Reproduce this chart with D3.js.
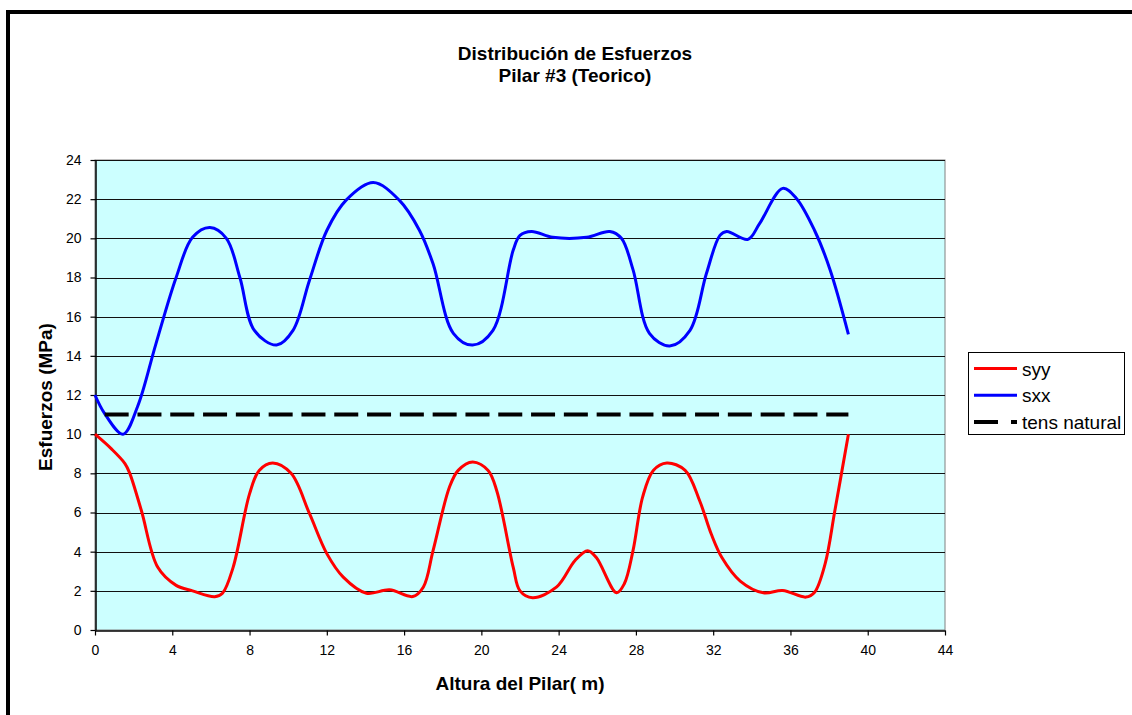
<!DOCTYPE html>
<html>
<head>
<meta charset="utf-8">
<script src="https://cdn.jsdelivr.net/npm/d3@7"></script>
<style>
  html, body { margin: 0; padding: 0; background: #fff; }
  svg { display: block; font-family: "Liberation Sans", Arial, sans-serif; }
</style>
</head>
<body>
<svg id="chart" width="1132" height="715"></svg>
<script>
// Esfuerzo vertical (syy) a lo largo de la altura del pilar
const syyAltura = [0, 0.85, 1.55, 1.8, 2.4, 3.25, 4.2, 5.05, 6.2, 6.6, 7.15, 8.0, 8.5, 9.2, 10.15, 11.1, 12.0, 12.85, 14.05, 15.25, 16.45, 17.0, 17.5, 18.35, 18.8, 19.55, 20.35, 20.8, 21.65, 22.0, 22.65, 23.9, 24.85, 25.5, 25.95, 27.0, 27.4, 27.85, 28.35, 28.9, 29.6, 30.55, 31.3, 31.9, 32.45, 33.4, 34.6, 35.6, 36.8, 37.25, 37.8, 38.3, 39.0];
const syyValores = [10.0, 9.25, 8.5, 8.0, 6.1, 3.2, 2.28, 2.0, 1.7, 1.88, 3.2, 6.95, 8.15, 8.53, 8.0, 5.95, 3.9, 2.7, 1.88, 2.05, 1.71, 2.2, 4.05, 7.3, 8.15, 8.58, 8.15, 7.1, 3.2, 2.0, 1.65, 2.2, 3.55, 4.05, 3.7, 1.9, 2.36, 4.05, 6.8, 8.15, 8.53, 8.15, 6.6, 4.9, 3.7, 2.5, 1.9, 2.02, 1.68, 1.93, 3.4, 6.1, 10.0];

// Esfuerzo horizontal (sxx)
const sxxAltura = [0, 0.5, 1.45, 2.2, 3.15, 4.2, 5.05, 5.95, 6.8, 7.5, 8.25, 9.4, 10.25, 11.1, 12.0, 13.0, 14.4, 15.75, 16.8, 17.5, 18.55, 19.55, 20.6, 21.65, 22.0, 22.6, 23.7, 25.45, 26.65, 27.25, 27.85, 28.7, 29.75, 30.8, 31.65, 32.35, 32.7, 33.8, 34.4, 35.6, 36.3, 37.25, 38.05, 39.0];
const sxxValores = [12.0, 11.05, 10.0, 11.4, 14.6, 18.0, 20.05, 20.55, 20.0, 18.0, 15.3, 14.55, 15.3, 17.85, 20.4, 21.95, 22.85, 21.95, 20.4, 18.7, 15.15, 14.55, 15.3, 19.4, 20.15, 20.35, 20.05, 20.05, 20.35, 20.0, 18.4, 15.15, 14.5, 15.3, 18.2, 20.15, 20.35, 19.95, 20.75, 22.55, 22.05, 20.4, 18.4, 15.1];

// Tensión natural (constante)
const tensAltura = [0.5, 39.0];
const tensValores = [11, 11];

const serieNombres = ["syy", "sxx", "tens natural"];
const xTicks = [0, 4, 8, 12, 16, 20, 24, 28, 32, 36, 40, 44];
const yTicks = [0, 2, 4, 6, 8, 10, 12, 14, 16, 18, 20, 22, 24];

const svg = d3.select("#chart");
const plot = { left: 95, right: 945, top: 160, bottom: 630 };

const x = d3.scaleLinear().domain([0, 44]).range([plot.left, plot.right]);
const y = d3.scaleLinear().domain([0, 24]).range([plot.bottom, plot.top]);

// Marco exterior del gráfico
svg.append("rect").attr("x", 6).attr("y", 10).attr("width", 4).attr("height", 705).attr("fill", "#000");
svg.append("rect").attr("x", 6).attr("y", 10).attr("width", 1126).attr("height", 4).attr("fill", "#000");

// Títulos
const title = svg.append("text")
  .attr("text-anchor", "middle")
  .attr("font-weight", "bold")
  .attr("font-size", 19)
  .attr("fill", "#000");
title.append("tspan").attr("x", 575).attr("y", 60).text("Distribución de Esfuerzos");
title.append("tspan").attr("x", 575).attr("y", 82).text("Pilar #3 (Teorico)");

// Área de trazado
svg.append("rect")
  .attr("x", plot.left).attr("y", plot.top)
  .attr("width", plot.right - plot.left).attr("height", plot.bottom - plot.top)
  .attr("fill", "#CCFFFF")
  .attr("stroke", "#808080").attr("stroke-width", 1);

// Líneas de cuadrícula horizontales
svg.append("g")
  .selectAll("line")
  .data(yTicks.filter(d => d > 0))
  .join("line")
  .attr("x1", plot.left).attr("x2", plot.right)
  .attr("y1", d => Math.round(y(d)) + 0.5).attr("y2", d => Math.round(y(d)) + 0.5)
  .attr("stroke", "#111").attr("stroke-width", 1);

// Ejes
const xAxis = svg.append("g")
  .attr("transform", `translate(0,${plot.bottom + 0.5})`)
  .call(d3.axisBottom(x).tickValues(xTicks).tickSize(5).tickPadding(10).tickSizeOuter(0));
const yAxis = svg.append("g")
  .attr("transform", `translate(${plot.left + 0.5},0)`)
  .call(d3.axisLeft(y).tickValues(yTicks).tickSize(5).tickPadding(9).tickSizeOuter(0));

[xAxis, yAxis].forEach(g => {
  g.selectAll(".domain").attr("stroke", "#000").attr("stroke-width", 1.5);
  g.selectAll(".tick line").attr("stroke", "#000").attr("stroke-width", 1.2);
  g.selectAll(".tick text")
    .attr("font-family", "'Liberation Sans', Arial, sans-serif")
    .attr("font-size", 14).attr("fill", "#000");
});

// Títulos de ejes
svg.append("text")
  .attr("x", 520).attr("y", 690)
  .attr("text-anchor", "middle").attr("font-weight", "bold").attr("font-size", 19)
  .text("Altura del Pilar( m)");
svg.append("text")
  .attr("transform", "translate(52,397) rotate(-90)")
  .attr("text-anchor", "middle").attr("font-weight", "bold").attr("font-size", 19)
  .text("Esfuerzos (MPa)");

// Series
const suave = d3.line()
  .x(d => x(d[0])).y(d => y(d[1]))
  .curve(d3.curveCatmullRom.alpha(0.5));
const recta = d3.line().x(d => x(d[0])).y(d => y(d[1]));

const series = [
  { nombre: serieNombres[0], altura: syyAltura, valores: syyValores, color: "#FF0000", ancho: 3, dash: null, gen: suave },
  { nombre: serieNombres[1], altura: sxxAltura, valores: sxxValores, color: "#0000FF", ancho: 3, dash: null, gen: suave },
  { nombre: serieNombres[2], altura: tensAltura, valores: tensValores, color: "#000000", ancho: 4, dash: "24,8.8", gen: recta }
];

svg.append("g")
  .selectAll("path")
  .data(series)
  .join("path")
  .attr("d", s => s.gen(s.altura.map((a, i) => [a, s.valores[i]])))
  .attr("fill", "none")
  .attr("stroke", s => s.color)
  .attr("stroke-width", s => s.ancho)
  .attr("stroke-dasharray", s => s.dash)
  .attr("stroke-linejoin", "round");

// Leyenda
const leyenda = svg.append("g");
leyenda.append("rect")
  .attr("x", 968.5).attr("y", 352.5).attr("width", 156).attr("height", 82)
  .attr("fill", "#fff").attr("stroke", "#000").attr("stroke-width", 1);

const filas = leyenda.selectAll("g.item")
  .data(series)
  .join("g")
  .attr("class", "item")
  .attr("transform", (d, i) => `translate(0,${368.5 + i * 26.7})`);
filas.append("line")
  .attr("x1", 974).attr("x2", 1017)
  .attr("y1", 0).attr("y2", 0)
  .attr("stroke", d => d.color)
  .attr("stroke-width", d => d.ancho)
  .attr("stroke-dasharray", d => d.dash ? "24,13" : null);
filas.append("text")
  .attr("x", 1022).attr("y", 7)
  .attr("font-size", 19)
  .attr("fill", "#000")
  .text(d => d.nombre);
</script>
</body>
</html>
